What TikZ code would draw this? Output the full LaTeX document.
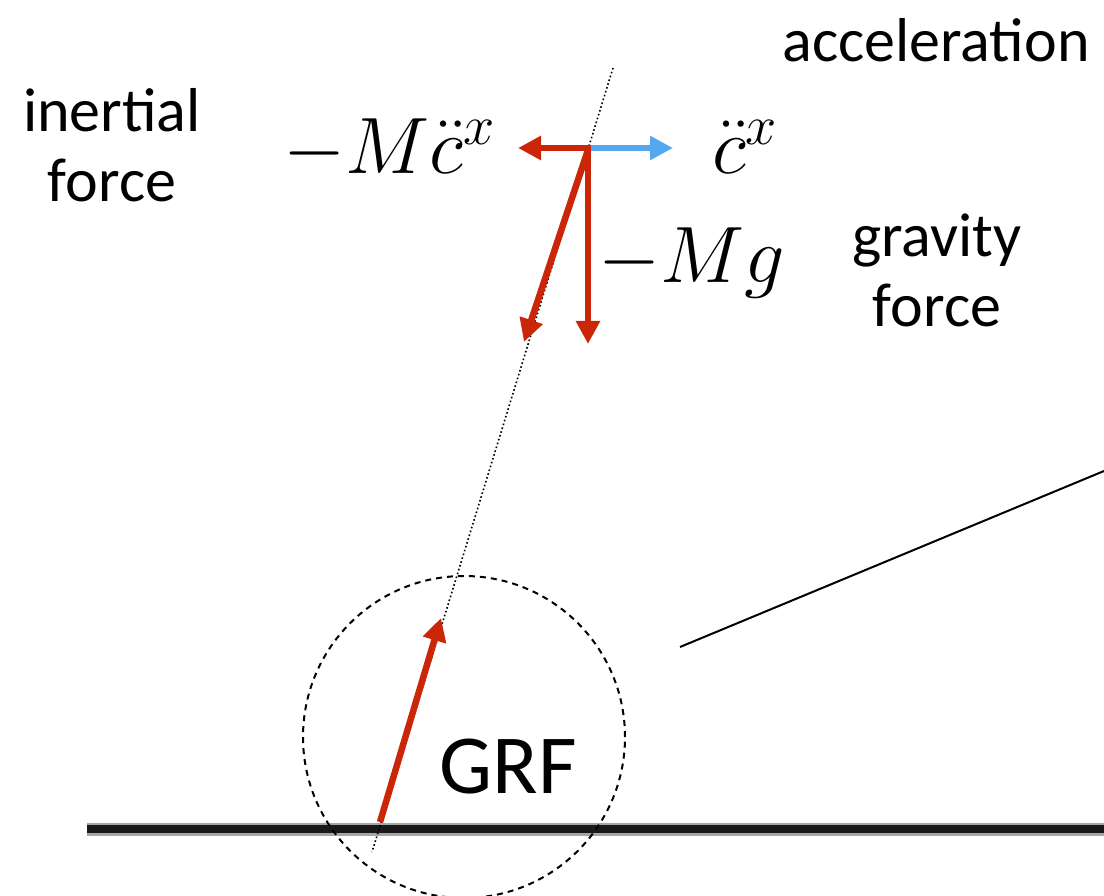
\RequirePackage{fix-cm}
\documentclass[tikz,border=0pt]{standalone}
\usepackage{fontspec}
\setmainfont{Carlito}
\usetikzlibrary{arrows.meta}
\definecolor{fred}{RGB}{204,38,8}
\definecolor{fblue}{RGB}{84,168,240}
\begin{document}
\begin{tikzpicture}[x=1pt,y=-1pt,
  lbl/.style={inner sep=0pt,align=center,font=\fontsize{62}{70}\selectfont},
  mth/.style={inner sep=0pt,font=\fontsize{80}{90}\selectfont},
  force/.style={draw=fred,line width=6.5pt,-{Triangle[length=23pt,width=23pt]}},
  accel/.style={draw=fblue,line width=6pt,-{Triangle[length=23pt,width=23pt]}},
  axis/.style={draw=black,line width=1.6pt,dash pattern=on 1.6pt off 2.4pt}]
\useasboundingbox (0,0) rectangle (1104,896);
% ground
\draw[line width=13pt,black!35] (87,829) -- (1104,829);
\draw[line width=8pt,black!90] (87,829) -- (1104,829);
% dashed circle
\node[draw,circle,minimum size=322pt,inner sep=0pt,line width=2pt,dash pattern=on 6pt off 5pt] (circ) at (464,737) {};
% line of action
\coordinate (top) at (613,68);
\coordinate (bot) at (372,852);
\draw[axis] (top) -- (bot);
% forces
\coordinate (O) at (588,148);
\coordinate (L) at (518,148);
\coordinate (R) at (673,148);
\coordinate (D) at (588,344);
\coordinate (RS) at (524,342);
\coordinate (G0) at (380,822);
\coordinate (G1) at (441,618);
\draw[accel] (O) -- (R);
\draw[force] ([xshift=3pt]O) -- (L);
\draw[force] ([yshift=-3pt]O) -- (D);
\draw[force] ([yshift=-2pt]O) -- (RS);
\draw[force] (G0) -- (G1);
% leader line
\coordinate (l0) at (680,647);
\coordinate (l1) at (1104,471);
\draw[line width=2pt] (l0) -- (l1);
% labels
\node[lbl] (acc) at (936,40) {acceleration};
\node[lbl] (inr) at (112,145) {inertial\\force};
\node[lbl] (grav) at (937,270) {gravity\\force};
\node[inner sep=0pt,font=\fontsize{84}{90}\selectfont] (grf) at (508,767) {GRF};
\node[mth,anchor=base west] (mcx) at (283,174) {$-M\ddot{c}^x$};
\node[mth,anchor=base west] (cx) at (712,174) {$\ddot{c}^x$};
\node[mth,anchor=base west] (mg) at (598,283) {$-Mg$};
\end{tikzpicture}
\end{document}
